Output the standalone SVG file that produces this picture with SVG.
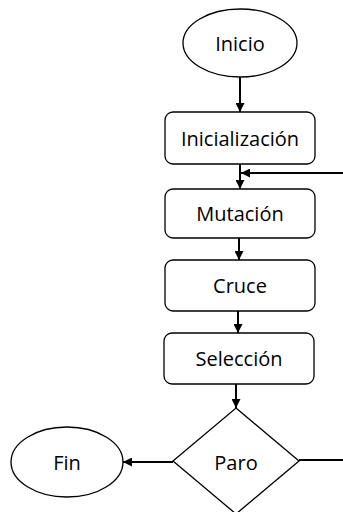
<svg xmlns="http://www.w3.org/2000/svg" width="343" height="512" viewBox="0 0 343 512">
<style>
.s{fill:#fff;stroke:#000;stroke-width:1.3}
.t{font-family:"Open Sans","Noto Sans",sans-serif;font-size:20px;fill:#000;text-anchor:middle;dominant-baseline:central}
.c{fill:none;stroke:#000;stroke-width:2}
</style>
<defs>
<marker id="a" viewBox="0 0 10 10" refX="10" refY="5" markerWidth="4.5" markerHeight="4.5" orient="auto" markerUnits="strokeWidth">
<path d="M0,0 L10,5 L0,10 z" fill="#000"/>
</marker>
</defs>
<rect width="343" height="512" fill="#fff"/>
<g id="connectors">
<line class="c" x1="240" y1="77" x2="240" y2="112" marker-end="url(#a)"/>
<line class="c" x1="240" y1="164" x2="240" y2="189" marker-end="url(#a)"/>
<line class="c" x1="343" y1="173" x2="241" y2="173" marker-end="url(#a)"/>
<line class="c" x1="239" y1="238" x2="239" y2="260" marker-end="url(#a)"/>
<line class="c" x1="238" y1="311" x2="238" y2="333" marker-end="url(#a)"/>
<line class="c" x1="236" y1="384" x2="236" y2="408" marker-end="url(#a)"/>
<line class="c" x1="173" y1="462" x2="123" y2="462" marker-end="url(#a)"/>
<line class="c" x1="299" y1="460" x2="343" y2="460"/>
</g>
<g id="inicio">
<ellipse class="s" cx="240" cy="43" rx="57" ry="34"/>
<text class="t" x="240" y="43">Inicio</text>
</g>
<g id="inicializacion">
<rect class="s" x="165" y="112" width="150" height="52" rx="8"/>
<text class="t" x="240" y="138">Inicialización</text>
</g>
<g id="mutacion">
<rect class="s" x="165" y="189" width="150" height="49" rx="8"/>
<text class="t" x="240" y="213">Mutación</text>
</g>
<g id="cruce">
<rect class="s" x="165" y="260" width="150" height="51" rx="8"/>
<text class="t" x="240" y="285">Cruce</text>
</g>
<g id="seleccion">
<rect class="s" x="164" y="333" width="150" height="51" rx="8"/>
<text class="t" x="239" y="358">Selección</text>
</g>
<g id="paro">
<polygon class="s" points="236,408 299,461 236,514 173,461"/>
<text class="t" x="236" y="462">Paro</text>
</g>
<g id="fin">
<ellipse class="s" cx="67" cy="462" rx="56" ry="35"/>
<text class="t" x="67" y="462">Fin</text>
</g>
</svg>
